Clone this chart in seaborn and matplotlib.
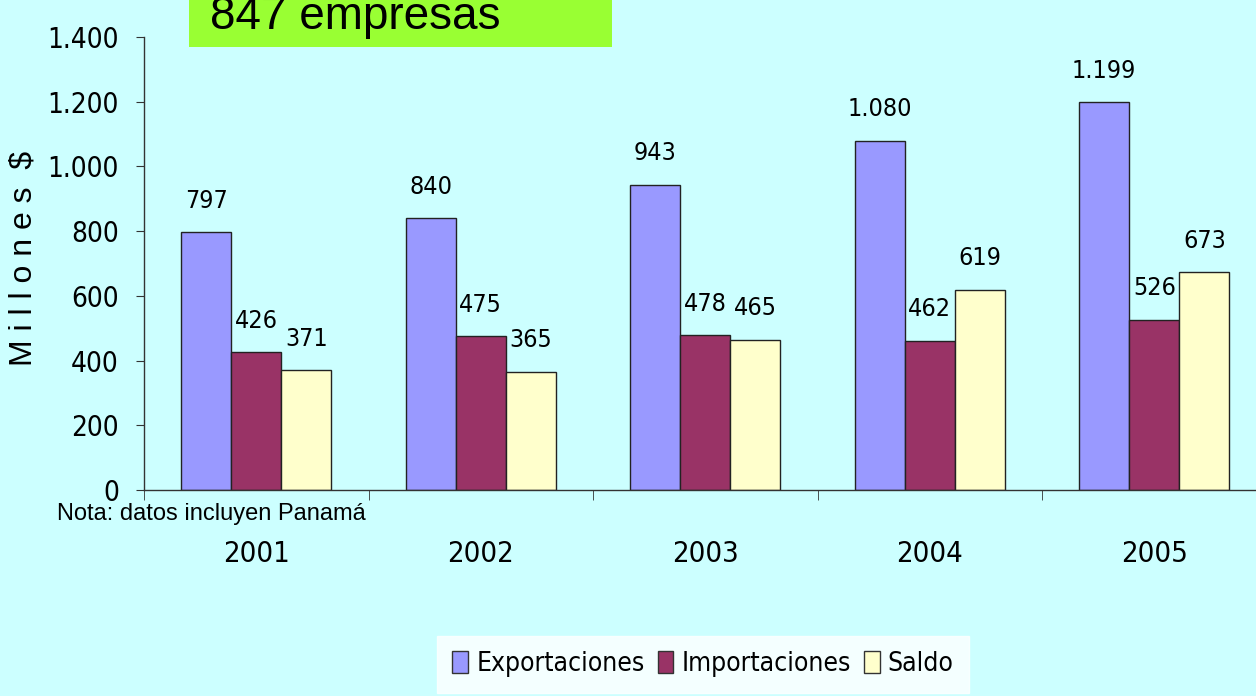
import pandas as pd
import matplotlib.pyplot as plt
import seaborn as sns
from matplotlib.patches import Rectangle

# datos (millones $)
years = ['2001', '2002', '2003', '2004', '2005']
exportaciones = [797, 840, 943, 1080, 1199]
importaciones = [426, 475, 478, 462, 526]
saldo = [371, 365, 465, 619, 673]
series_names = ['Exportaciones', 'Importaciones', 'Saldo']
colors = ['#9999FF', '#993366', '#FFFFCC']
bg = '#CCFFFF'

regular = ['Liberation Sans', 'DejaVu Sans']

df = pd.DataFrame({
    'year': years * 3,
    'serie': [s for s in series_names for _ in years],
    'valor': exportaciones + importaciones + saldo,
})

sns.set_style('ticks')
plt.rcParams['font.family'] = ['DejaVu Sans']
plt.rcParams['font.stretch'] = 'condensed'
plt.rcParams['text.color'] = 'black'
plt.rcParams['xtick.color'] = 'black'
plt.rcParams['ytick.color'] = 'black'

fig = plt.figure(figsize=(12.56, 6.96), dpi=100, facecolor=bg)
ax = fig.add_axes([144 / 1256, 206 / 696, 1122.5 / 1256, 453 / 696])
ax.set_facecolor(bg)

sns.barplot(data=df, x='year', y='valor', hue='serie', palette=colors,
            saturation=1, width=0.67, edgecolor='#222222', linewidth=1, ax=ax)

for cont in ax.containers:
    labels = [f'{v:,.0f}'.replace(',', '.') for v in cont.datavalues]
    ax.bar_label(cont, labels=labels, padding=14, fontsize=18, color='black',
                 fontstretch='condensed')

ax.set_xlim(-0.5, 4.5)
ax.set_ylim(0, 1400)
ax.set_yticks(range(0, 1401, 200))
ax.set_yticklabels([f'{v:,}'.replace(',', '.') for v in range(0, 1401, 200)],
                   fontsize=20, fontstretch='condensed')
ax.set_xticks(range(len(years)))
ax.set_xticklabels(years, fontsize=21, fontstretch='condensed')
ax.tick_params(axis='x', length=0, pad=36)
ax.set_xticks([i - 0.5 for i in range(len(years) + 1)], minor=True)
ax.tick_params(axis='x', which='minor', length=7, color='#333333')
ax.tick_params(axis='y', length=6, pad=12, color='#333333', labelcolor='black')
ax.set_xlabel('')
ax.set_ylabel('')
sns.despine(ax=ax, top=True, right=True)
for s in ['left', 'bottom']:
    ax.spines[s].set_color('#333333')
    ax.spines[s].set_linewidth(1)

fig.text(24 / 1256, 1 - 258 / 696, 'M i l l o n e s  $', fontsize=23,
         family=regular, rotation=90, va='center', ha='center')

# leyenda
ax.legend_.remove()
handles = [Rectangle((0, 0), 1, 1, facecolor=c, edgecolor='#333333') for c in colors]
leg = fig.legend(handles, series_names, loc='lower center', bbox_to_anchor=(703 / 1256, -0.015),
                 ncol=3, frameon=True, fancybox=False, handlelength=0.6,
                 handleheight=0.9, handletextpad=0.3, columnspacing=0.5,
                 borderpad=0.6, prop={'family': 'DejaVu Sans', 'stretch': 'condensed', 'size': 19})
leg.get_frame().set_facecolor('white')
leg.get_frame().set_edgecolor('white')

# nota y recuadro de título
fig.text(57 / 1256, 1 - 514 / 696, 'Nota: datos incluyen Panamá', fontsize=17,
         family=regular, va='center')
fig.patches.append(Rectangle((189 / 1256, 1 - 47 / 696), 423 / 1256, 60 / 696,
                             transform=fig.transFigure, facecolor='#99FF33',
                             edgecolor='none', zorder=0))
fig.text(210 / 1256, 1 - 29 / 696, '847 empresas', fontsize=33, family=regular,
         va='baseline')

fig.savefig('out.png', dpi=100, facecolor=bg)
